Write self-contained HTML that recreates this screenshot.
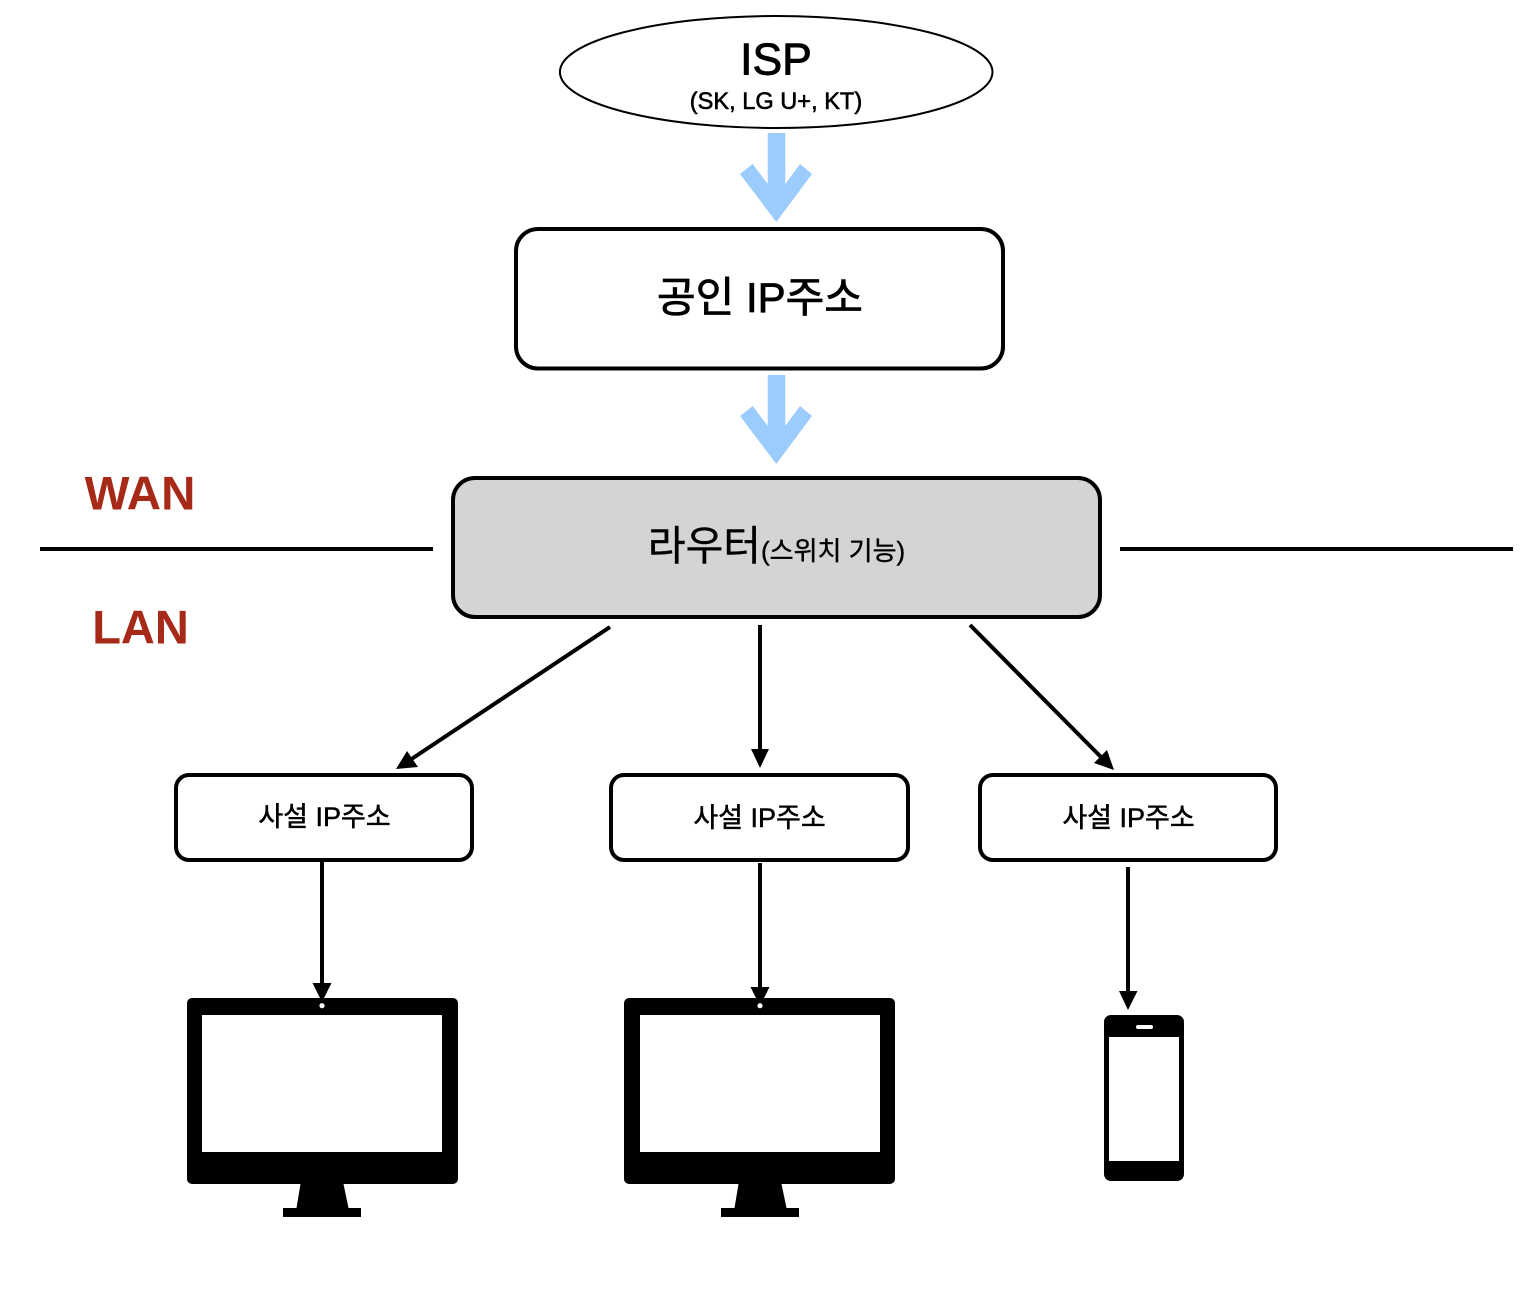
<!DOCTYPE html>
<html><head><meta charset="utf-8">
<style>
html,body{margin:0;padding:0;background:#fff;width:1540px;height:1302px;overflow:hidden}
svg{display:block}
text{font-family:"Liberation Sans","Noto Sans CJK KR",sans-serif;fill:#000}
</style></head><body>
<svg width="1540" height="1302" viewBox="0 0 1540 1302">
<ellipse cx="776.200" cy="72" rx="216.300" ry="56" fill="#fff" stroke="#000" stroke-width="2"/>
<text x="776" y="74.500" font-size="44.500" text-anchor="middle" stroke="#000" stroke-width="0.900">ISP</text>
<text x="776" y="109" font-size="23.600" text-anchor="middle" stroke="#000" stroke-width="0.600">(SK, LG U+, KT)</text>

<g fill="#9ccbfd">
<polygon points="767.700,133 785.300,133 785.300,184 800,164 812,174 776.300,222 740,174 752.700,164 767.700,184"/>
<polygon points="767.700,375 785.300,375 785.300,426 800,406 812,416 776.300,464 740,416 752.700,406 767.700,426"/>
</g>

<rect x="516" y="229" width="487" height="139.500" rx="22" fill="#fff" stroke="#000" stroke-width="4"/>
<text x="760" y="312" font-size="42" text-anchor="middle" stroke="#000" stroke-width="0.800">공인 IP주소</text>

<rect x="453" y="478" width="647" height="139" rx="22" fill="#d4d4d4" stroke="#000" stroke-width="4"/>
<text x="776.500" y="560" text-anchor="middle" font-size="41" stroke="#000" stroke-width="0.400">라우터<tspan font-size="26">(스위치 기능)</tspan></text>

<line x1="40" y1="549" x2="433" y2="549" stroke="#000" stroke-width="4"/>
<line x1="1120" y1="549" x2="1513" y2="549" stroke="#000" stroke-width="4"/>
<text x="140" y="509.500" font-size="47.500" font-weight="bold" text-anchor="middle" style="fill:#a62a17">WAN</text>
<text x="140.500" y="643.500" font-size="47" font-weight="bold" text-anchor="middle" style="fill:#a62a17">LAN</text>

<g stroke="#000" stroke-width="4" fill="none">
<line x1="610" y1="627" x2="410" y2="760"/>
<line x1="760" y1="625" x2="760" y2="752"/>
<line x1="970" y1="625" x2="1101" y2="757"/>
<line x1="322" y1="860" x2="322" y2="986"/>
<line x1="760" y1="863" x2="760" y2="990"/>
<line x1="1128" y1="867" x2="1128" y2="994"/>
</g>
<g fill="#000">
<polygon points="396,769 407,751 418,767"/>
<polygon points="751,749 769,749 760,768"/>
<polygon points="1114,770 1094,763 1107,750"/>
<polygon points="312.500,983 331.500,983 322,1002"/>
<polygon points="750.500,987 769.500,987 760,1006"/>
<polygon points="1119,991 1137.500,991 1128,1010"/>
</g>

<g fill="#fff" stroke="#000" stroke-width="4">
<rect x="176" y="775" width="296" height="85" rx="13"/>
<rect x="611" y="775" width="297" height="85" rx="13"/>
<rect x="980" y="775" width="296" height="85" rx="13"/>
</g>
<g font-size="27" text-anchor="middle" stroke="#000" stroke-width="0.500">
<text x="324.500" y="826">사설 IP주소</text>
<text x="759.500" y="827">사설 IP주소</text>
<text x="1128.500" y="827">사설 IP주소</text>
</g>

<g>
<rect x="187" y="998" width="271" height="186" rx="5" fill="#000"/>
<rect x="202" y="1015" width="240" height="137" fill="#fff"/>
<circle cx="322" cy="1005.700" r="2.600" fill="#fff"/>
<polygon points="300.500,1184 343.500,1184 348.500,1208 361,1208 361,1217 283,1217 283,1208 296.500,1208" fill="#000"/>
</g>
<g>
<rect x="624" y="998" width="271" height="186" rx="5" fill="#000"/>
<rect x="640" y="1015" width="240" height="137" fill="#fff"/>
<circle cx="760" cy="1005.700" r="2.600" fill="#fff"/>
<polygon points="738.500,1184 781.500,1184 786.500,1208 799,1208 799,1217 721,1217 721,1208 734.500,1208" fill="#000"/>
</g>
<g>
<rect x="1104" y="1015" width="80" height="166" rx="7" fill="#000"/>
<rect x="1109" y="1037" width="70" height="124" fill="#fff"/>
<rect x="1136" y="1025" width="17" height="4" rx="2" fill="#fff"/>
</g>
</svg>
</body></html>
